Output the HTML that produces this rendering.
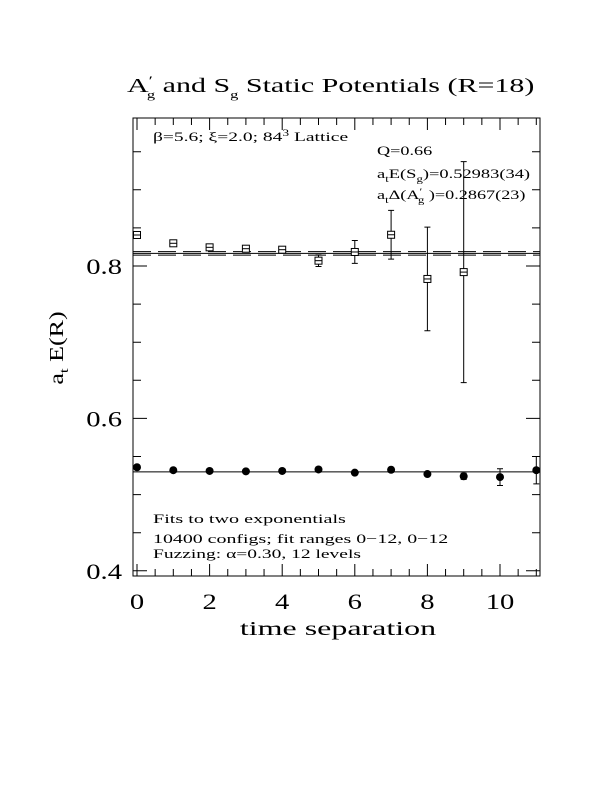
<!DOCTYPE html>
<html><head><meta charset="utf-8"><style>
body{margin:0;background:#fff}
svg text{font-family:"Liberation Serif",serif;fill:#000}
</style></head><body>
<svg width="612" height="792" viewBox="0 0 612 792">
<g id="axes"></g>
<g id="marks"></g>
<g transform="translate(127,92) scale(1.5,1)"><text x="0" y="0" font-size="20">A<tspan font-size="13" dy="-7">′</tspan><tspan font-size="11" dy="13" dx="-4">g</tspan><tspan dy="-6">  and S</tspan><tspan font-size="11" dy="6">g</tspan><tspan dy="-6"> Static Potentials (R=18)</tspan></text></g>
<g transform="translate(338,635) scale(1.6,1)"><text x="0" y="0" font-size="20" text-anchor="middle">time separation</text></g>
<g transform="translate(63,348) rotate(-90) scale(1.3,1)"><text x="0" y="0" font-size="20" text-anchor="middle">a<tspan font-size="13" dy="5">t</tspan><tspan dy="-5"> E(R)</tspan></text></g>
<g transform="translate(153,141) scale(1.5,1)"><text x="0" y="0" font-size="13">β=5.6; ξ=2.0; 84<tspan font-size="9" dy="-5">3</tspan><tspan dy="5"> Lattice</tspan></text></g>
<g transform="translate(377,155) scale(1.4,1)"><text x="0" y="0" font-size="13">Q=0.66</text></g>
<g transform="translate(377,178) scale(1.42,1)"><text x="0" y="0" font-size="13">a<tspan font-size="9" dy="4">t</tspan><tspan dy="-4">E(S</tspan><tspan font-size="9" dy="4">g</tspan><tspan dy="-4">)=0.52983(34)</tspan></text></g>
<g transform="translate(377,199) scale(1.4,1)"><text x="0" y="0" font-size="13">a<tspan font-size="9" dy="4">t</tspan><tspan dy="-4">Δ(A</tspan><tspan font-size="9" dy="-4">′</tspan><tspan font-size="9" dy="8" dx="-3">g</tspan><tspan dy="-4"> )=0.2867(23)</tspan></text></g>
<g transform="translate(153,523) scale(1.55,1)"><text x="0" y="0" font-size="13">Fits to two exponentials</text></g>
<g transform="translate(153,543) scale(1.53,1)"><text x="0" y="0" font-size="13">10400 configs; fit ranges 0−12, 0−12</text></g>
<g transform="translate(153,558) scale(1.5,1)"><text x="0" y="0" font-size="13">Fuzzing: α=0.30, 12 levels</text></g>
</svg>
<script>
const sgT=[0,1,2,3,4,5,6,7,8,9,10,11];
const sgE=[0.5359,0.532,0.531,0.5305,0.531,0.533,0.5288,0.5326,0.527,0.524,0.523,0.532];
const sgErr=[0.002,0.002,0.002,0.002,0.002,0.002,0.002,0.002,0.002,0.004,0.011,0.018];
const agT=[0,1,2,3,4,5,6,7,8,9];
const agE=[0.8407,0.8298,0.8245,0.8227,0.8214,0.807,0.8184,0.841,0.783,0.792];
const agErr=[0.002,0.002,0.002,0.002,0.002,0.0076,0.015,0.032,0.068,0.145];
const sgFit=0.52983;
const agFit=0.81653;
const agFitErr=0.0023;
const xTicks=[0,2,4,6,8,10];
const yTicks=[0.4,0.6,0.8];
const yTickLabels=["0.4","0.6","0.8"];

const NS="http://www.w3.org/2000/svg";
const L=133,R=540,T=118,B=576;
const xs=v=>137+v*36.3;
const ys=v=>266+(0.8-v)*762;
function mk(tag,attrs,parent){const e=document.createElementNS(NS,tag);for(const k in attrs)e.setAttribute(k,attrs[k]);parent.appendChild(e);return e;}
const ax=document.getElementById('axes'),mg=document.getElementById('marks');
let fr=mk('rect',{x:L,y:T,width:R-L,height:B-T,fill:'none',stroke:'#000','stroke-width':1},ax);


for(let v=0;v<=11.01;v+=0.5){
  const x=xs(v),major=Math.abs(v/2-Math.round(v/2))<1e-6,len=major?12:7;
  let t=mk('path',{d:`M${x} ${B}V${B-len}M${x} ${T}V${T+len}`,stroke:'#000','stroke-width':1},ax);
  
  
}
xTicks.forEach(v=>{
  const g=mk('g',{transform:`translate(${xs(v)},609) scale(1.3,1)`},ax);
  let t=mk('text',{x:0,y:0,'font-size':22,'text-anchor':'middle'},g);t.textContent=v;
  
  
});
for(let i=0;i<=11;i++){
  const v=0.4+i*0.05,y=ys(v),major=i%4==0,len=major?14:8;
  let t=mk('path',{d:`M${L} ${y}H${L+len}M${R} ${y}H${R-len}`,stroke:'#000','stroke-width':1},ax);
  
  
}
yTicks.forEach((v,i)=>{
  const g=mk('g',{transform:`translate(122,${ys(v)+8}) scale(1.3,1)`},ax);
  let t=mk('text',{x:0,y:0,'font-size':22,'text-anchor':'end'},g);t.textContent=yTickLabels[i];
  
  
});
let f1=mk('line',{x1:L,x2:R,y1:ys(sgFit),y2:ys(sgFit),stroke:'#000'},mg);


let f2=mk('line',{x1:L,x2:R,y1:ys(agFit),y2:ys(agFit),stroke:'#000'},mg);


[agFit+agFitErr,agFit-agFitErr].forEach(v=>{
  let d=mk('line',{x1:L,x2:R,y1:ys(v),y2:ys(v),stroke:'#000','stroke-dasharray':'18,7'},mg);
  
  
});
function errbar(x,v,e){
  const y1=ys(v+e),y2=ys(v-e);
  let p=mk('path',{d:`M${x} ${y1}V${y2}M${x-3} ${y1}H${x+3}M${x-3} ${y2}H${x+3}`,stroke:'#000','stroke-width':1,fill:'none'},mg);
  
  
}
sgT.forEach((t,i)=>{
  const x=xs(t);
  if(sgErr[i]>0.003)errbar(x,sgE[i],sgErr[i]);
  let c=mk('circle',{cx:x,cy:ys(sgE[i]),r:4,fill:'#000'},mg);
  
  
});
agT.forEach((t,i)=>{
  const x=xs(t);
  if(agErr[i]>0.003)errbar(x,agE[i],agErr[i]);
  let r=mk('rect',{x:x-3.5,y:ys(agE[i])-3.5,width:7,height:7,fill:'#fff',stroke:'#000','stroke-width':1},mg);
  
  
  let m=mk('line',{x1:x-3.5,x2:x+3.5,y1:ys(agE[i]),y2:ys(agE[i]),stroke:'#000'},mg);
  
  
});
</script>
</body></html>
